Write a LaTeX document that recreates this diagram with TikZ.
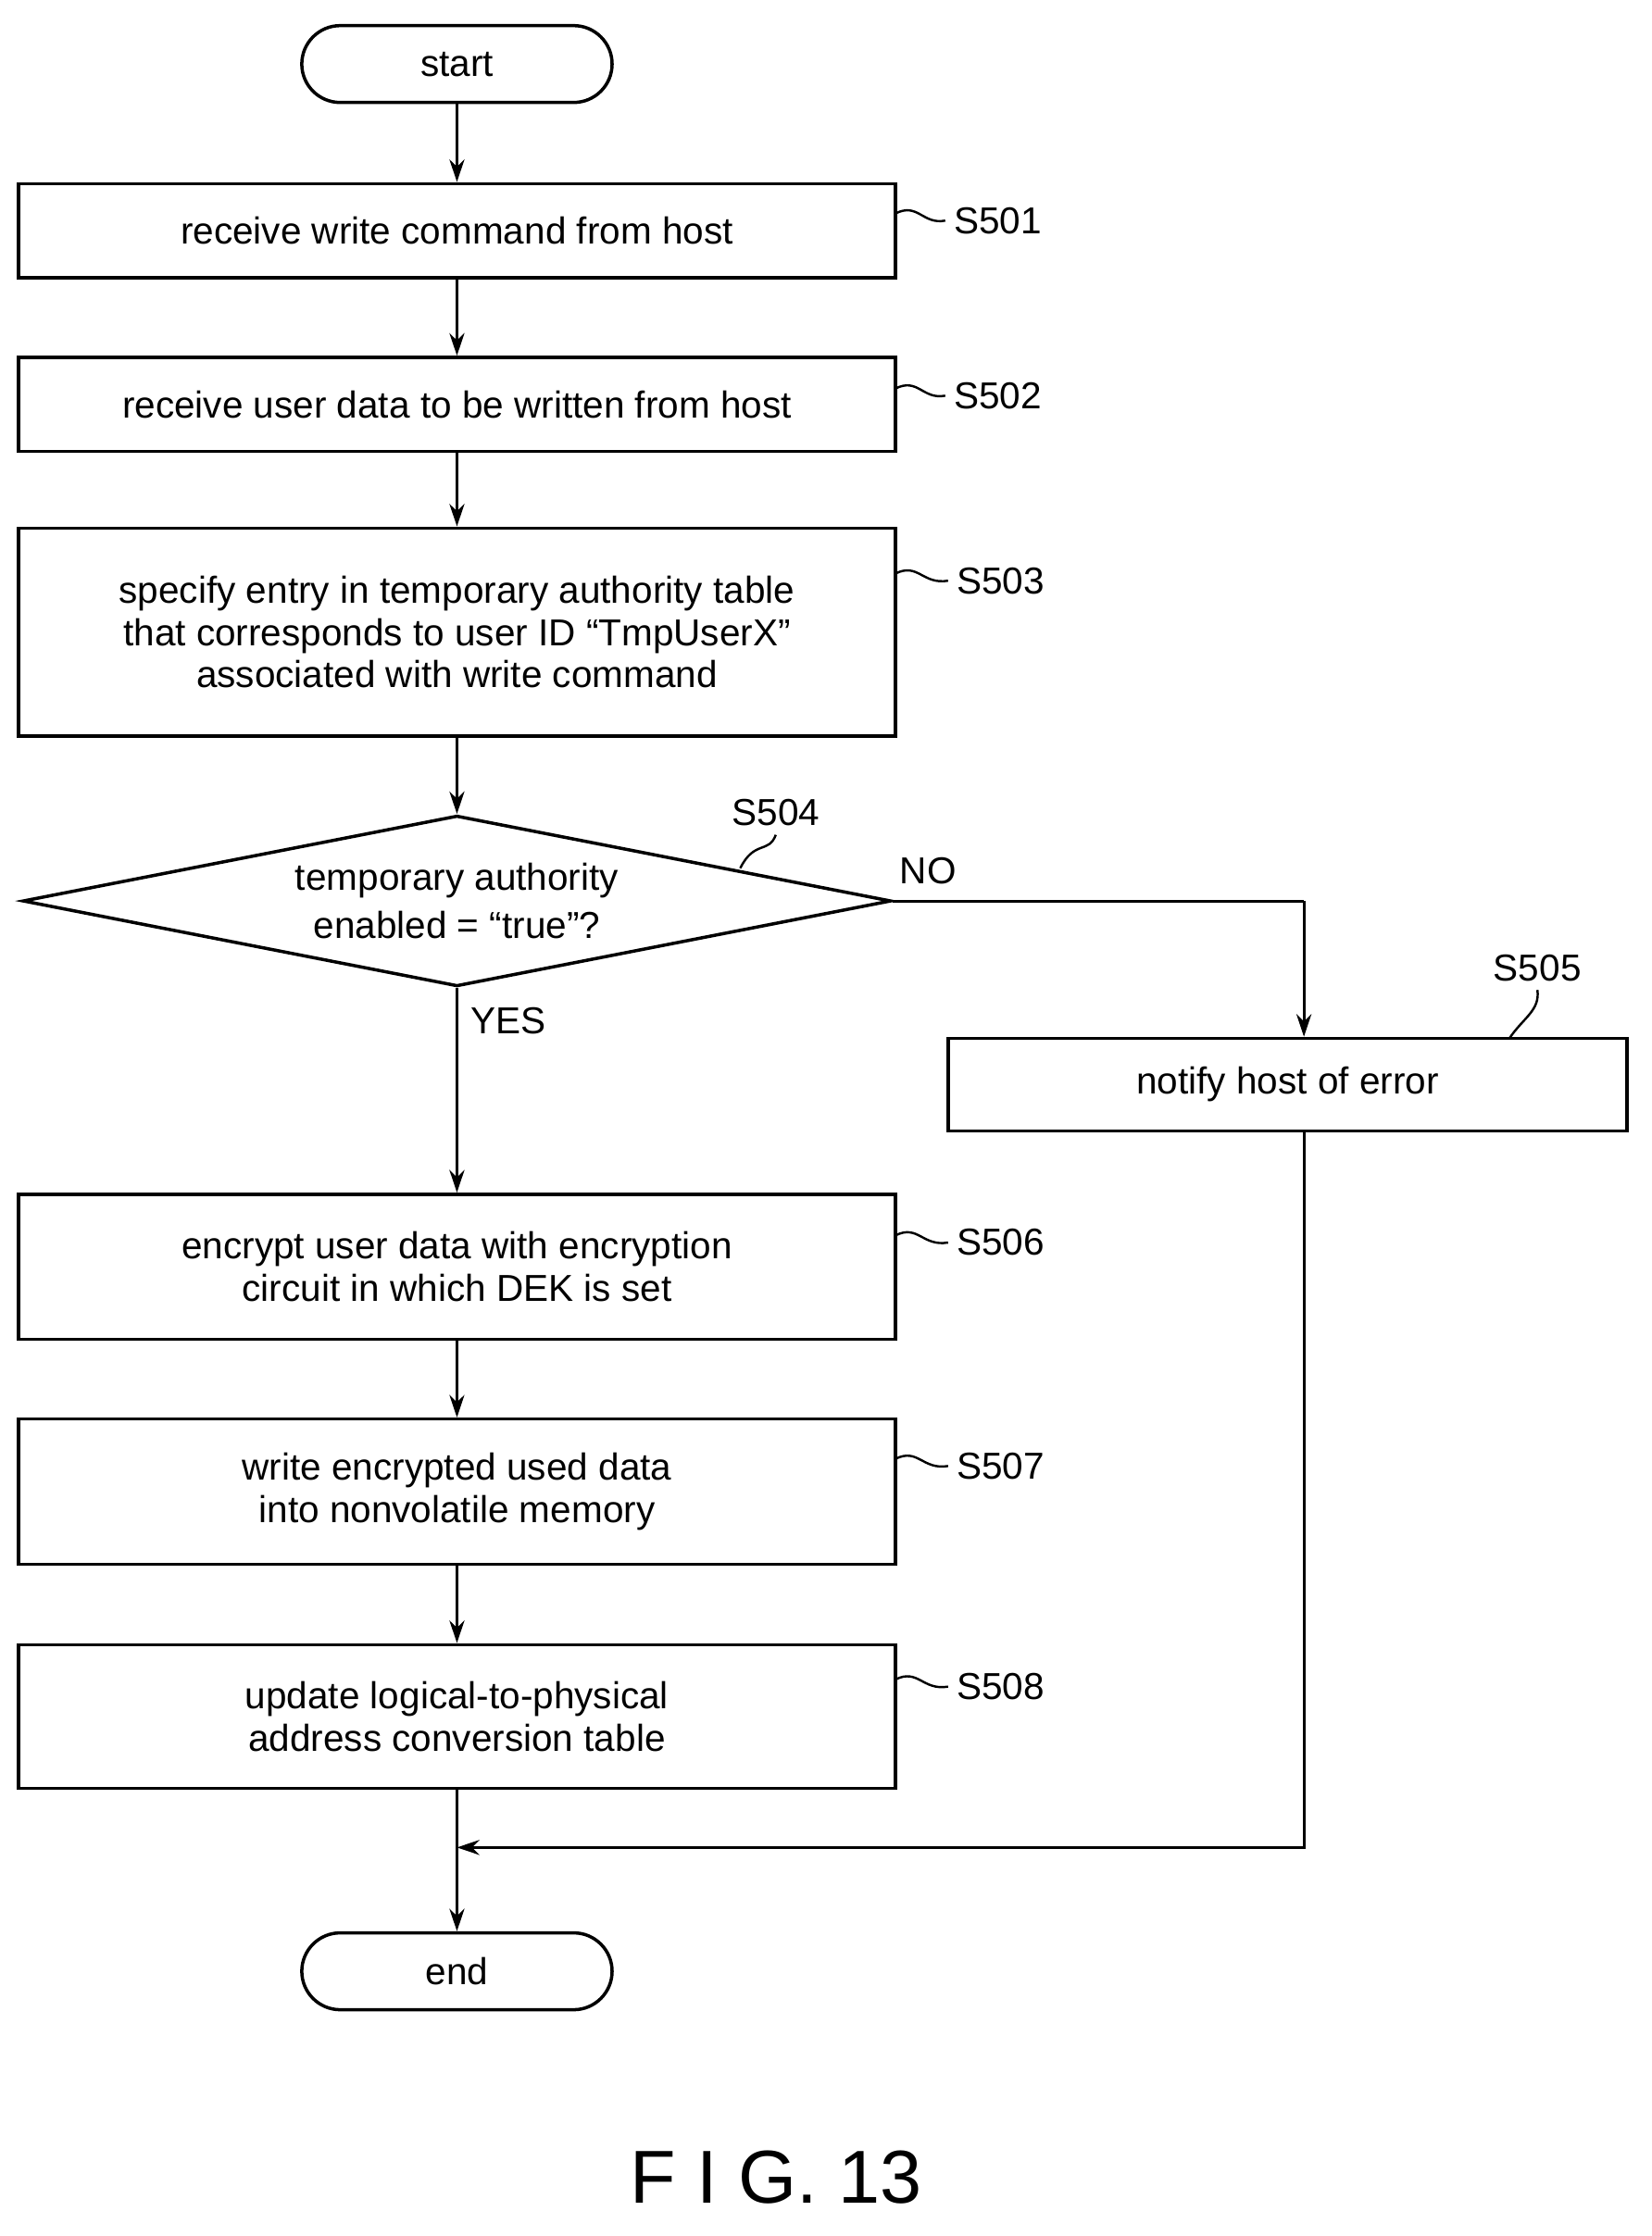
\documentclass[tikz,border=0pt]{standalone}
\usepackage{fontspec}
\setmainfont{Liberation Sans}
\usetikzlibrary{shapes.geometric,arrows.meta}
\begin{document}
\begin{tikzpicture}[x=0.02cm,y=-0.02cm,
 box/.style={draw,line width=1.3pt,minimum width=616*0.02cm,align=center,font=\fontsize{15}{17}\selectfont,inner sep=0pt},
 term/.style={draw,line width=1.3pt,rounded corners=27*0.02cm,minimum width=218*0.02cm,minimum height=54*0.02cm,font=\fontsize{15}{17}\selectfont},
 lab/.style={font=\fontsize{15}{17}\selectfont},
 arr/.style={line width=1.1pt,-{Stealth[length=9pt,width=6pt]}},
 lead/.style={line width=0.9pt}]
\useasboundingbox (0,0) rectangle (1160,1571);
\node[term] (start) at (321,45) {start};
\node[box,minimum height=66*0.02cm] (s501) at (321,162) {receive write command from host};
\node[box,minimum height=66*0.02cm] (s502) at (321,284) {receive user data to be written from host};
\node[box,minimum height=146*0.02cm] (s503) at (321,444) {specify entry in temporary authority table\\that corresponds to user ID “TmpUserX”\\associated with write command};
\node[draw,line width=1.3pt,diamond,aspect=5.08,minimum width=610*0.02cm,minimum height=120*0.02cm,inner sep=0pt,align=center,font=\fontsize{15}{19}\selectfont] (s504) at (321,633) {temporary authority\\enabled = “true”?};
\node[box,minimum width=477*0.02cm,minimum height=65*0.02cm] (s505) at (904.5,762) {notify host of error};
\node[box,minimum height=102*0.02cm] (s506) at (321,890) {encrypt user data with encryption\\circuit in which DEK is set};
\node[box,minimum height=102*0.02cm] (s507) at (321,1048) {write encrypted used data\\into nonvolatile memory};
\node[box,minimum height=101*0.02cm] (s508) at (321,1206) {update logical-to-physical\\address conversion table};
\node[term] (end) at (321,1385) {end};
\coordinate (n1) at (916,633);
\coordinate (n2) at (916,1298);
\coordinate (m) at (321,1298);
\draw[arr] (start) -- (s501);
\draw[arr] (s501) -- (s502);
\draw[arr] (s502) -- (s503);
\draw[arr] (s503) -- (s504);
\draw[arr] (s504.south) -- (s506);
\draw[arr] (s506) -- (s507);
\draw[arr] (s507) -- (s508);
\draw[arr] (s508) -- (end);
\draw[line width=1.1pt] (s504.east) -- (n1);
\draw[arr] (n1) -- (s505.north -| n1);
\draw[arr] (s505.south -| n1) -- (n2) -- (m);
\node[lab] at (652,612) {NO};
\node[lab] at (357,717) {YES};
\node[lab,anchor=west] (l501) at (664,155) {S501};
\node[lab,anchor=west] (l502) at (664,278) {S502};
\node[lab,anchor=west] (l503) at (666,408) {S503};
\node[lab,anchor=west] (l506) at (666,873) {S506};
\node[lab,anchor=west] (l507) at (666,1030) {S507};
\node[lab,anchor=west] (l508) at (666,1185) {S508};
\node[lab] (l504) at (545,571) {S504};
\node[lab] (l505) at (1080,680) {S505};
\foreach \y/\l in {150/l501,273/l502,403/l503,868/l506,1025/l507,1180/l508}
 \draw[lead] (629,\y) .. controls (645,\y-8) and (648,\y+8) .. (\l.west);
\draw[lead] (520,610) .. controls (530,590) and (540,600) .. (l504.south);
\draw[lead] (1060,730) .. controls (1070,715) and (1082,710) .. (l505.south);
\node[font=\fontsize{30}{34}\selectfont] (fig) at (545,1530) {F I G. 13};
\end{tikzpicture}
\end{document}
